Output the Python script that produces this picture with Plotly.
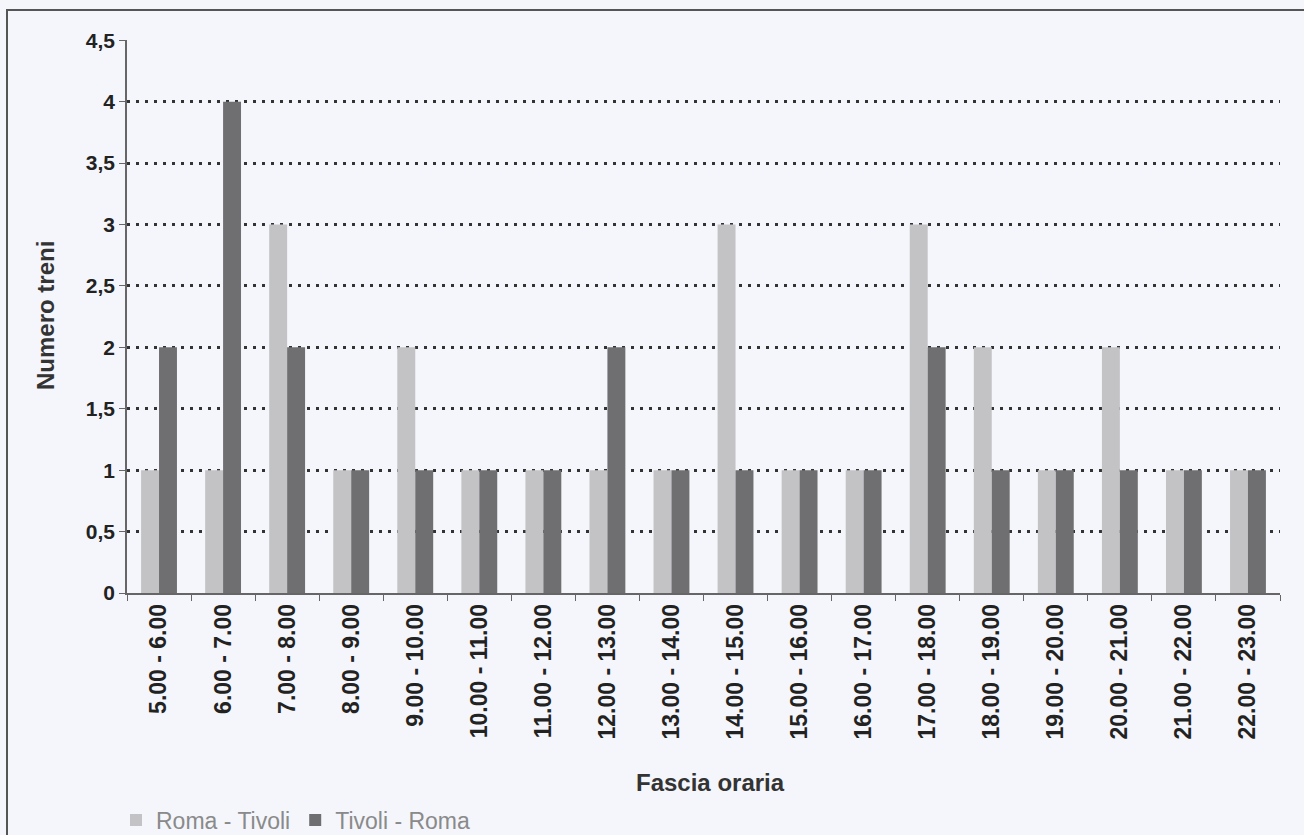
import plotly.graph_objects as go

categories = ["5.00 - 6.00", "6.00 - 7.00", "7.00 - 8.00", "8.00 - 9.00", "9.00 - 10.00",
              "10.00 - 11.00", "11.00 - 12.00", "12.00 - 13.00", "13.00 - 14.00",
              "14.00 - 15.00", "15.00 - 16.00", "16.00 - 17.00", "17.00 - 18.00",
              "18.00 - 19.00", "19.00 - 20.00", "20.00 - 21.00", "21.00 - 22.00",
              "22.00 - 23.00"]
roma_tivoli = [1, 1, 3, 1, 2, 1, 1, 1, 1, 3, 1, 1, 3, 2, 1, 2, 1, 1]
tivoli_roma = [2, 4, 2, 1, 1, 1, 1, 2, 1, 1, 1, 1, 2, 1, 1, 1, 1, 1]
y_ticks = [0, 0.5, 1, 1.5, 2, 2.5, 3, 3.5, 4, 4.5]

FONT = "Liberation Sans, Arial, sans-serif"
BG = "#f4f6fb"

fig = go.Figure()
fig.add_trace(go.Bar(name="Roma - Tivoli", x=categories, y=roma_tivoli,
                     marker=dict(color="#c3c3c5", line=dict(width=0))))
fig.add_trace(go.Bar(name="Tivoli - Roma", x=categories, y=tivoli_roma,
                     marker=dict(color="#6f6f71", line=dict(width=0))))

L, R, T, B = 127, 24, 40, 242
pw = 1304 - L - R
ph = 835 - T - B

fig.update_layout(
    width=1304, height=835,
    paper_bgcolor=BG, plot_bgcolor=BG,
    margin=dict(l=L, r=R, t=T, b=B, autoexpand=False),
    barmode="group", bargap=0.44, bargroupgap=0,
    separators=",.",
    font=dict(family=FONT, color="#222"),
    showlegend=True,
    legend=dict(orientation="h", xref="container", yref="container",
                x=116 / 1304, y=1 - 820 / 835,
                xanchor="left", yanchor="middle", bgcolor="rgba(0,0,0,0)",
                font=dict(size=23, color="#8a8a8a", family=FONT),
                itemwidth=30, tracegroupgap=0),
    xaxis=dict(
        type="category", tickangle=-90, tickson="boundaries", automargin=False,
        ticks="outside", ticklen=6, tickcolor="#666",
        showline=True, linecolor="#666", linewidth=1.5,
        showgrid=False,
        tickfont=dict(size=23, family=FONT, color="#222", weight="bold"),
    ),
    yaxis=dict(
        range=[0, 4.502], tickvals=y_ticks, automargin=False,
        ticks="outside", ticklen=6, tickcolor="#666",
        showline=True, linecolor="#666", linewidth=1.5,
        showgrid=True, gridcolor="#333", gridwidth=2.5, griddash="3px,6px",
        zeroline=False,
        tickfont=dict(size=21, family=FONT, color="#222", weight="bold"),
    ),
    annotations=[
        dict(text="<b>Fascia oraria</b>", xref="paper", yref="paper",
             x=(710 - L) / pw, y=(593 - 783) / ph, showarrow=False,
             xanchor="center", yanchor="middle",
             font=dict(size=24, family=FONT, color="#333")),
        dict(text="<b>Numero treni</b>", xref="paper", yref="paper",
             x=(45 - L) / pw, y=(593 - 316) / ph, showarrow=False,
             textangle=-90, xanchor="center", yanchor="middle",
             font=dict(size=24, family=FONT, color="#333")),
    ],
    shapes=[
        dict(type="rect", xref="paper", yref="paper",
             x0=(7 - L) / pw, x1=(1310 - L) / pw,
             y0=(593 - 845) / ph, y1=(593 - 10) / ph,
             line=dict(color="#555", width=2), fillcolor="rgba(0,0,0,0)", layer="below"),
    ],
)

fig.write_html("out.html")
